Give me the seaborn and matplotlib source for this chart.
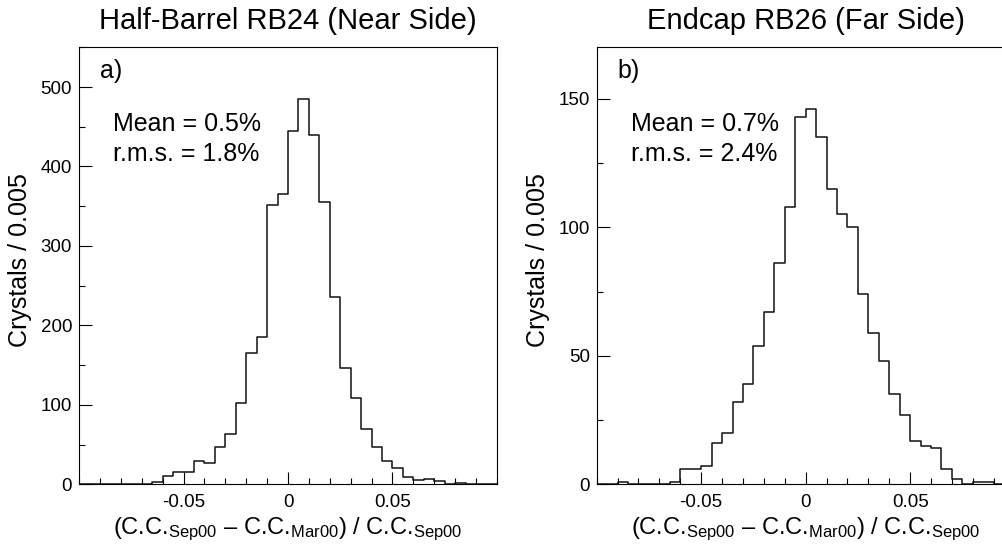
import numpy as np
import pandas as pd
import matplotlib
matplotlib.use("Agg")
import matplotlib.pyplot as plt
import seaborn as sns
from matplotlib.ticker import MultipleLocator, FixedLocator

# ---------------- data ----------------
x_low, x_high, n_bins = -0.1, 0.1, 40
counts_barrel = [1, 1, 1, 0, 1, 1, 1, 3, 10, 16,
                 15, 29, 27, 47, 63, 102, 165, 185, 351, 366,
                 445, 485, 440, 355, 236, 146, 109, 69, 47, 29,
                 21, 9, 6, 7, 4, 1, 2, 1, 0, 0]
counts_endcap = [0, 0, 1, 0, 0, 0, 0, 1, 6, 6,
                 7, 16, 20, 32, 39, 54, 67, 86, 108, 143,
                 146, 135, 115, 105, 100, 74, 59, 48, 35, 27,
                 17, 15, 14, 6, 2, 0, 1, 1, 0, 0]
titles = ["Half-Barrel RB24 (Near Side)", "Endcap RB26 (Far Side)"]
panel_tags = ["a)", "b)"]
mean_texts = ["Mean = 0.5%", "Mean = 0.7%"]
rms_texts = ["r.m.s. = 1.8%", "r.m.s. = 2.4%"]
y_max = [550, 170]
y_major = [100, 50]
y_minor = [50, 25]
x_major_ticks = [-0.05, 0.0, 0.05]
x_tick_labels = ["-0.05", "0", "0.05"]
y_label = "Crystals / 0.005"
x_label = (r"(C.C.$_{\mathregular{Sep00}}$ – C.C.$_{\mathregular{Mar00}}$)"
           r" / C.C.$_{\mathregular{Sep00}}$")

# ---------------- style ----------------
sns.set_style("ticks")
plt.rcParams["font.family"] = ["Liberation Sans", "DejaVu Sans"]
plt.rcParams["mathtext.fontset"] = "custom"
plt.rcParams["mathtext.rm"] = "Liberation Sans"
plt.rcParams["mathtext.it"] = "Liberation Sans:italic"
plt.rcParams["mathtext.bf"] = "Liberation Sans:bold"
plt.rcParams["axes.linewidth"] = 0.8
plt.rcParams["axes.edgecolor"] = "black"
plt.rcParams["text.color"] = "black"
plt.rcParams["axes.labelcolor"] = "black"
plt.rcParams["xtick.color"] = "black"
plt.rcParams["ytick.color"] = "black"

edges = np.linspace(x_low, x_high, n_bins + 1)
centers = (edges[:-1] + edges[1:]) / 2

fig = plt.figure(figsize=(10.03, 5.52), dpi=100)
ax_pos = [[0.0788, 0.1226, 0.4167, 0.7917],
          [0.5949, 0.1226, 0.4167, 0.7917]]

for i, counts in enumerate([counts_barrel, counts_endcap]):
    ax = fig.add_axes(ax_pos[i])
    df = pd.DataFrame({"x": centers, "n": np.asarray(counts, dtype=float)})
    sns.histplot(data=df, x="x", weights="n", bins=list(edges),
                 element="step", fill=False, color="#111111",
                 linewidth=1.1, ax=ax)
    ax.set_xlim(x_low, x_high)
    ax.set_ylim(0, y_max[i])
    for s in ["top", "right", "left", "bottom"]:
        ax.spines[s].set_visible(True)
        ax.spines[s].set_linewidth(0.8)
    ax.xaxis.set_major_locator(FixedLocator(x_major_ticks))
    ax.set_xticklabels(x_tick_labels)
    ax.xaxis.set_minor_locator(MultipleLocator(0.01))
    ax.yaxis.set_major_locator(MultipleLocator(y_major[i]))
    ax.yaxis.set_minor_locator(MultipleLocator(y_minor[i]))
    ax.tick_params(which="both", direction="in", top=False, right=False,
                   width=0.8, color="black", labelcolor="black",
                   labelsize=13.5)
    ax.tick_params(which="major", length=9)
    ax.tick_params(which="minor", length=4.3)
    ax.tick_params(axis="x", which="major", pad=7)
    ax.tick_params(axis="y", which="major", pad=5)

    ax.set_title(titles[i], fontsize=21, pad=13, color="black")
    ax.set_ylabel(y_label, fontsize=18, color="black")
    ax.yaxis.set_label_coords(-0.112, 0.513)
    ax.set_xlabel(x_label, fontsize=17, color="black")
    ax.xaxis.set_label_coords(0.5, -0.072)

    ax.text(0.05, 0.930, panel_tags[i], transform=ax.transAxes,
            fontsize=18, ha="left", va="baseline", color="black")
    ax.text(0.081, 0.808, mean_texts[i], transform=ax.transAxes,
            fontsize=18, ha="left", va="baseline", color="black")
    ax.text(0.081, 0.740, rms_texts[i], transform=ax.transAxes,
            fontsize=18, ha="left", va="baseline", color="black")

fig.savefig("out.png", dpi=100, facecolor="white")
